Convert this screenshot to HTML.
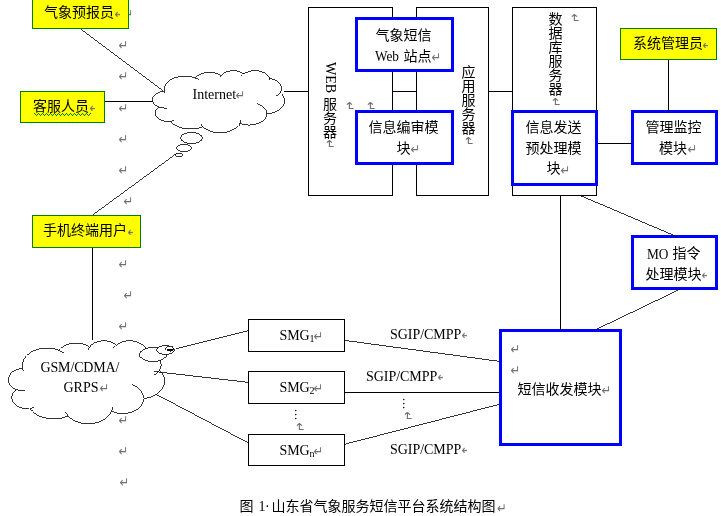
<!DOCTYPE html>
<html lang="zh-CN">
<head>
<meta charset="utf-8">
<title>图 1 山东省气象服务短信平台系统结构图</title>
<style>
html,body{margin:0;padding:0;background:#fff;}
body{width:721px;height:516px;overflow:hidden;}
svg{display:block;will-change:transform;}
text{fill:#000;}
.c{font-family:"Liberation Serif", "Noto Sans CJK SC", sans-serif;}
.l{font-family:"Liberation Serif", serif;}
.v{writing-mode:vertical-rl;text-orientation:mixed;}
.pm{fill:#707070;font-family:"DejaVu Sans", sans-serif;}
</style>
</head>
<body>
<svg width="721" height="516" viewBox="0 0 721 516" shape-rendering="crispEdges">
<g id="marks">
<text transform="translate(118.5,49.8) scale(1,1.18)" font-size="11.5" class="pm">↵</text>
<text transform="translate(118.5,80.8) scale(1,1.18)" font-size="11.5" class="pm">↵</text>
<text transform="translate(118.5,112.8) scale(1,1.18)" font-size="11.5" class="pm">↵</text>
<text transform="translate(118.5,143.8) scale(1,1.18)" font-size="11.5" class="pm">↵</text>
<text transform="translate(118.5,174.8) scale(1,1.18)" font-size="11.5" class="pm">↵</text>
<text transform="translate(123.5,205.8) scale(1,1.18)" font-size="11.5" class="pm">↵</text>
<text transform="translate(118.5,237.8) scale(1,1.18)" font-size="11.5" class="pm">↵</text>
<text transform="translate(118.5,268.8) scale(1,1.18)" font-size="11.5" class="pm">↵</text>
<text transform="translate(123.5,299.8) scale(1,1.18)" font-size="11.5" class="pm">↵</text>
<text transform="translate(118.5,330.8) scale(1,1.18)" font-size="11.5" class="pm">↵</text>
<text transform="translate(118.5,362.8) scale(1,1.18)" font-size="11.5" class="pm">↵</text>
<text transform="translate(118.5,393.8) scale(1,1.18)" font-size="11.5" class="pm">↵</text>
<text transform="translate(118.5,424.8) scale(1,1.18)" font-size="11.5" class="pm">↵</text>
<text transform="translate(118.5,455.8) scale(1,1.18)" font-size="11.5" class="pm">↵</text>
<text transform="translate(119.5,486.8) scale(1,1.18)" font-size="11.5" class="pm">↵</text>
<text transform="translate(123.5,18.8) scale(1,1.18)" font-size="11.5" class="pm">↵</text>
</g>
<g id="connectors">
<line x1="80" y1="28.5" x2="164" y2="91.5" stroke="#000" stroke-width="0.8"/>
<line x1="105" y1="101.5" x2="153" y2="101.5" stroke="#000" stroke-width="1"/>
<line x1="284" y1="91.5" x2="308" y2="91.5" stroke="#000" stroke-width="1"/>
<line x1="393" y1="91.5" x2="416" y2="91.5" stroke="#000" stroke-width="1"/>
<line x1="489" y1="91.5" x2="512" y2="91.5" stroke="#000" stroke-width="1"/>
<line x1="92.5" y1="248" x2="92.5" y2="340" stroke="#000" stroke-width="1"/>
<line x1="92" y1="215.5" x2="176.5" y2="153.5" stroke="#000" stroke-width="0.8"/>
<line x1="344.5" y1="340.5" x2="499.5" y2="361.5" stroke="#000" stroke-width="0.8"/>
<line x1="345" y1="392.5" x2="499" y2="392.5" stroke="#000" stroke-width="1"/>
<line x1="344.5" y1="444" x2="499.5" y2="404" stroke="#000" stroke-width="0.8"/>
</g>
<g id="servers">
<rect x="308.5" y="7.5" width="84" height="188" fill="#fff" stroke="#000" stroke-width="1"/>
<rect x="416.5" y="7.5" width="72" height="188" fill="#fff" stroke="#000" stroke-width="1"/>
<rect x="512.5" y="7.5" width="84" height="188" fill="#fff" stroke="#000" stroke-width="1"/>
</g>
<g id="actors">
<rect x="32.5" y="-3.5" width="96" height="32" fill="#ff0" stroke="#008000" stroke-width="1"/>
<rect x="20.5" y="91.5" width="84" height="31" fill="#ff0" stroke="#008000" stroke-width="1"/>
<rect x="32.5" y="215.5" width="108" height="32" fill="#ff0" stroke="#008000" stroke-width="1"/>
<rect x="620.5" y="28.5" width="96" height="31" fill="#ff0" stroke="#008000" stroke-width="1"/>
</g>
<g id="smg">
<rect x="248.5" y="319.5" width="96" height="32" fill="#fff" stroke="#000" stroke-width="1"/>
<rect x="248.5" y="371.5" width="96" height="32" fill="#fff" stroke="#000" stroke-width="1"/>
<rect x="248.5" y="434.5" width="96" height="31" fill="#fff" stroke="#000" stroke-width="1"/>
</g>
<g id="modules">
<rect x="356.5" y="18.5" width="96" height="52" fill="#fff" stroke="#00f" stroke-width="3"/>
<rect x="356.5" y="111.5" width="96" height="52" fill="#fff" stroke="#00f" stroke-width="3"/>
<rect x="512.5" y="111.5" width="84" height="73" fill="#fff" stroke="#00f" stroke-width="3"/>
<rect x="632.5" y="111.5" width="84" height="52" fill="#fff" stroke="#00f" stroke-width="3"/>
<rect x="632.5" y="236.5" width="84" height="52" fill="#fff" stroke="#00f" stroke-width="3"/>
<rect x="500.5" y="330.5" width="120" height="114" fill="#fff" stroke="#00f" stroke-width="3"/>
</g>
<g id="connectors2">
<line x1="598" y1="143.5" x2="632" y2="143.5" stroke="#000" stroke-width="1"/>
<line x1="668.5" y1="60" x2="668.5" y2="111" stroke="#000" stroke-width="1"/>
<line x1="560.5" y1="196" x2="560.5" y2="330" stroke="#000" stroke-width="1"/>
<line x1="580.2" y1="195.5" x2="676.5" y2="236.5" stroke="#000" stroke-width="0.8"/>
<line x1="679.5" y1="289.5" x2="596" y2="329.5" stroke="#000" stroke-width="0.8"/>
</g>
<g id="clouds">
<path d="M164.42,91.12 L164.25,89.90 L164.26,88.67 L164.44,87.45 L164.81,86.24 L165.35,85.06 L166.05,83.92 L166.92,82.83 L167.95,81.79 L169.12,80.82 L170.43,79.92 L171.87,79.10 L173.42,78.37 L175.06,77.74 L176.80,77.21 L178.60,76.78 L180.45,76.46 L182.35,76.25 L184.26,76.16 L186.19,76.18 L188.10,76.32 L189.98,76.57 L191.81,76.93 L193.59,77.39 L195.29,77.97 L195.93,77.27 L196.65,76.60 L197.44,75.98 L198.31,75.39 L199.25,74.85 L200.25,74.36 L201.31,73.91 L202.41,73.52 L203.56,73.19 L204.75,72.92 L205.97,72.70 L207.21,72.55 L208.46,72.46 L209.73,72.43 L210.99,72.46 L212.24,72.56 L213.48,72.72 L214.69,72.93 L215.88,73.21 L217.03,73.55 L218.13,73.94 L219.19,74.39 L220.18,74.88 L221.12,75.43 L221.66,74.80 L222.29,74.20 L222.99,73.63 L223.76,73.11 L224.60,72.63 L225.51,72.20 L226.46,71.82 L227.46,71.49 L228.50,71.21 L229.58,71.00 L230.68,70.84 L231.79,70.74 L232.92,70.70 L234.04,70.73 L235.16,70.81 L236.27,70.95 L237.35,71.16 L238.40,71.42 L239.41,71.73 L240.38,72.10 L241.29,72.52 L242.15,72.99 L242.94,73.51 L243.66,74.06 L244.61,73.41 L245.65,72.82 L246.78,72.29 L247.98,71.83 L249.24,71.45 L250.55,71.15 L251.91,70.92 L253.29,70.78 L254.68,70.72 L256.08,70.74 L257.46,70.85 L258.83,71.04 L260.16,71.31 L261.44,71.66 L262.67,72.09 L263.83,72.58 L264.91,73.15 L265.90,73.78 L266.80,74.46 L267.59,75.19 L268.27,75.97 L268.83,76.79 L269.27,77.63 L269.58,78.50 L270.69,78.72 L271.77,78.99 L272.82,79.31 L273.83,79.68 L274.80,80.09 L275.72,80.55 L276.58,81.04 L277.39,81.57 L278.14,82.14 L278.82,82.75 L279.43,83.38 L279.98,84.03 L280.44,84.72 L280.83,85.42 L281.14,86.13 L281.38,86.86 L281.53,87.60 L281.59,88.34 L281.58,89.08 L281.48,89.82 L281.30,90.56 L281.04,91.28 L280.70,91.99 L280.28,92.69 L281.31,93.63 L282.21,94.62 L282.97,95.66 L283.59,96.74 L284.06,97.85 L284.38,98.98 L284.54,100.12 L284.55,101.27 L284.40,102.42 L284.09,103.55 L283.64,104.66 L283.03,105.74 L282.28,106.78 L281.39,107.78 L280.37,108.73 L279.23,109.61 L277.97,110.43 L276.60,111.18 L275.14,111.84 L273.59,112.43 L271.97,112.92 L270.29,113.33 L268.56,113.64 L266.79,113.85 L266.71,114.84 L266.49,115.83 L266.14,116.80 L265.65,117.75 L265.03,118.67 L264.29,119.54 L263.43,120.38 L262.46,121.16 L261.39,121.88 L260.22,122.54 L258.96,123.13 L257.63,123.65 L256.23,124.09 L254.77,124.45 L253.27,124.73 L251.74,124.92 L250.18,125.03 L248.62,125.04 L247.07,124.97 L245.52,124.81 L244.01,124.57 L242.54,124.24 L241.11,123.82 L239.75,123.33 L239.11,124.51 L238.29,125.63 L237.31,126.71 L236.17,127.72 L234.90,128.66 L233.49,129.51 L231.96,130.28 L230.33,130.95 L228.61,131.52 L226.81,131.99 L224.95,132.34 L223.04,132.58 L221.11,132.71 L219.17,132.72 L217.24,132.61 L215.33,132.38 L213.46,132.04 L211.65,131.59 L209.92,131.04 L208.27,130.38 L206.73,129.62 L205.30,128.78 L204.01,127.85 L202.86,126.85 L201.49,127.34 L200.08,127.77 L198.62,128.14 L197.13,128.44 L195.61,128.68 L194.07,128.86 L192.52,128.97 L190.96,129.01 L189.39,128.99 L187.83,128.90 L186.29,128.75 L184.76,128.53 L183.26,128.24 L181.80,127.89 L180.37,127.48 L178.99,127.01 L177.65,126.49 L176.38,125.91 L175.17,125.27 L174.03,124.58 L172.96,123.85 L171.97,123.08 L171.06,122.26 L170.24,121.41 L168.89,121.46 L167.53,121.43 L166.19,121.31 L164.88,121.11 L163.60,120.82 L162.38,120.45 L161.22,120.01 L160.14,119.49 L159.14,118.90 L158.25,118.25 L157.46,117.55 L156.79,116.80 L156.24,116.01 L155.82,115.19 L155.54,114.35 L155.39,113.49 L155.37,112.63 L155.50,111.77 L155.76,110.92 L156.15,110.09 L156.67,109.30 L157.32,108.54 L158.08,107.83 L158.96,107.17 L157.80,106.68 L156.73,106.11 L155.75,105.48 L154.88,104.78 L154.13,104.03 L153.51,103.23 L153.02,102.40 L152.67,101.54 L152.46,100.66 L152.39,99.77 L152.47,98.88 L152.69,98.00 L153.06,97.14 L153.56,96.30 L154.19,95.51 L154.95,94.77 L155.83,94.07 L156.81,93.45 L157.89,92.89 L159.06,92.40 L160.30,92.00 L161.59,91.68 L162.93,91.45 L164.31,91.32 L164.42,91.12Z" fill="#fff" stroke="#000" stroke-width="0.8"/>
<path d="M166.84,108.07 L166.50,108.08 L166.17,108.09 L165.83,108.09 L165.50,108.09 L165.16,108.08 L164.83,108.07 L164.49,108.05 L164.16,108.03 L163.82,108.00 L163.49,107.96 L163.16,107.92 L162.83,107.88 L162.51,107.83 L162.18,107.77 L161.86,107.71 L161.54,107.64 L161.22,107.57 L160.91,107.49 L160.60,107.41 L160.29,107.32 L159.99,107.23 L159.69,107.13 L159.39,107.03 L159.10,106.92 M173.67,120.59 L173.53,120.62 L173.40,120.65 L173.26,120.69 L173.12,120.72 L172.98,120.75 L172.85,120.78 L172.71,120.80 L172.57,120.83 L172.43,120.86 L172.29,120.88 L172.15,120.91 L172.00,120.93 L171.86,120.95 L171.72,120.98 L171.58,121.00 L171.43,121.01 L171.29,121.03 L171.15,121.05 L171.00,121.07 L170.86,121.08 L170.72,121.10 L170.57,121.11 L170.43,121.12 L170.28,121.13 M202.85,126.60 L202.75,126.50 L202.65,126.40 L202.55,126.31 L202.45,126.21 L202.36,126.11 L202.26,126.00 L202.17,125.90 L202.08,125.80 L201.99,125.70 L201.90,125.60 L201.81,125.49 L201.73,125.39 L201.64,125.28 L201.56,125.18 L201.48,125.07 L201.40,124.97 L201.32,124.86 L201.24,124.75 L201.16,124.65 L201.09,124.54 L201.02,124.43 L200.95,124.32 L200.88,124.21 L200.81,124.10 M240.58,120.37 L240.57,120.49 L240.55,120.61 L240.53,120.72 L240.51,120.84 L240.49,120.95 L240.46,121.07 L240.44,121.18 L240.41,121.30 L240.38,121.41 L240.35,121.53 L240.32,121.64 L240.29,121.76 L240.25,121.87 L240.22,121.99 L240.18,122.10 L240.14,122.21 L240.10,122.33 L240.06,122.44 L240.01,122.55 L239.97,122.67 L239.92,122.78 L239.87,122.89 L239.82,123.00 L239.77,123.11 M256.78,103.44 L257.52,103.69 L258.24,103.95 L258.93,104.24 L259.61,104.54 L260.26,104.87 L260.89,105.22 L261.49,105.58 L262.07,105.96 L262.61,106.36 L263.13,106.77 L263.61,107.20 L264.07,107.65 L264.49,108.10 L264.87,108.57 L265.22,109.05 L265.54,109.54 L265.82,110.04 L266.06,110.55 L266.27,111.06 L266.43,111.58 L266.56,112.10 L266.65,112.63 L266.71,113.15 L266.72,113.68 M280.22,92.54 L280.09,92.72 L279.96,92.90 L279.82,93.08 L279.68,93.26 L279.53,93.44 L279.38,93.61 L279.22,93.79 L279.06,93.96 L278.89,94.13 L278.71,94.29 L278.53,94.46 L278.35,94.62 L278.16,94.78 L277.97,94.94 L277.77,95.09 L277.57,95.25 L277.36,95.40 L277.15,95.55 L276.94,95.69 L276.71,95.83 L276.49,95.97 L276.26,96.11 L276.03,96.24 L275.79,96.38 M269.60,78.29 L269.62,78.36 L269.64,78.44 L269.66,78.51 L269.68,78.59 L269.69,78.66 L269.71,78.74 L269.73,78.81 L269.74,78.89 L269.75,78.96 L269.76,79.04 L269.78,79.11 L269.79,79.19 L269.80,79.27 L269.80,79.34 L269.81,79.42 L269.82,79.49 L269.82,79.57 L269.83,79.65 L269.83,79.72 L269.83,79.80 L269.84,79.87 L269.84,79.95 L269.84,80.02 L269.83,80.10 M241.35,76.17 L241.42,76.07 L241.50,75.96 L241.57,75.86 L241.65,75.76 L241.73,75.66 L241.82,75.56 L241.90,75.46 L241.99,75.36 L242.08,75.26 L242.17,75.16 L242.26,75.06 L242.35,74.96 L242.45,74.87 L242.54,74.77 L242.64,74.68 L242.74,74.58 L242.85,74.49 L242.95,74.40 L243.06,74.30 L243.17,74.21 L243.28,74.12 L243.39,74.03 L243.50,73.95 L243.62,73.86 M220.15,77.27 L220.18,77.19 L220.21,77.10 L220.25,77.02 L220.28,76.93 L220.32,76.85 L220.35,76.76 L220.39,76.68 L220.43,76.59 L220.47,76.51 L220.52,76.42 L220.56,76.34 L220.60,76.25 L220.65,76.17 L220.70,76.09 L220.75,76.01 L220.80,75.92 L220.85,75.84 L220.90,75.76 L220.96,75.68 L221.01,75.60 L221.07,75.52 L221.13,75.44 L221.19,75.36 L221.25,75.28 M195.28,77.95 L195.46,78.02 L195.64,78.09 L195.81,78.16 L195.99,78.23 L196.16,78.30 L196.34,78.38 L196.51,78.45 L196.68,78.53 L196.85,78.60 L197.02,78.68 L197.19,78.76 L197.36,78.84 L197.52,78.92 L197.68,79.01 L197.85,79.09 L198.01,79.17 L198.17,79.26 L198.33,79.35 L198.48,79.43 L198.64,79.52 L198.79,79.61 L198.95,79.70 L199.10,79.79 L199.25,79.89 M165.11,93.16 L165.07,93.08 L165.03,92.99 L165.00,92.91 L164.96,92.83 L164.92,92.74 L164.89,92.66 L164.86,92.57 L164.82,92.49 L164.79,92.41 L164.76,92.32 L164.73,92.24 L164.70,92.15 L164.67,92.07 L164.64,91.98 L164.62,91.90 L164.59,91.81 L164.57,91.72 L164.54,91.64 L164.52,91.55 L164.50,91.47 L164.48,91.38 L164.46,91.30 L164.44,91.21 L164.42,91.12" fill="none" stroke="#000" stroke-width="0.8"/>
<ellipse cx="191.5" cy="138" rx="11" ry="5.5" fill="#fff" stroke="#000" stroke-width="0.8"/>
<ellipse cx="184" cy="148" rx="7.5" ry="3.5" fill="#fff" stroke="#000" stroke-width="0.8"/>
<ellipse cx="179" cy="155" rx="3.5" ry="1.5" fill="#fff" stroke="#000" stroke-width="0.8"/>
<path d="M22.58,368.11 L22.38,366.47 L22.39,364.83 L22.61,363.19 L23.05,361.58 L23.68,360.00 L24.52,358.47 L25.55,357.00 L26.76,355.61 L28.15,354.31 L29.70,353.11 L31.39,352.01 L33.22,351.04 L35.17,350.19 L37.21,349.48 L39.34,348.91 L41.54,348.48 L43.77,348.20 L46.04,348.08 L48.31,348.11 L50.57,348.29 L52.79,348.62 L54.96,349.10 L57.06,349.73 L59.07,350.49 L59.82,349.56 L60.67,348.67 L61.61,347.83 L62.64,347.05 L63.75,346.32 L64.93,345.66 L66.18,345.07 L67.49,344.55 L68.85,344.10 L70.25,343.74 L71.69,343.45 L73.16,343.24 L74.64,343.12 L76.13,343.08 L77.62,343.13 L79.10,343.26 L80.57,343.47 L82.00,343.76 L83.40,344.13 L84.76,344.58 L86.07,345.11 L87.31,345.70 L88.49,346.37 L89.59,347.09 L90.24,346.25 L90.98,345.45 L91.81,344.69 L92.72,343.99 L93.71,343.35 L94.78,342.77 L95.91,342.26 L97.09,341.82 L98.32,341.45 L99.59,341.16 L100.89,340.95 L102.21,340.82 L103.54,340.77 L104.87,340.80 L106.19,340.91 L107.50,341.11 L108.77,341.38 L110.01,341.73 L111.21,342.15 L112.35,342.65 L113.43,343.21 L114.44,343.84 L115.38,344.52 L116.23,345.27 L117.36,344.39 L118.59,343.60 L119.92,342.90 L121.34,342.29 L122.83,341.77 L124.38,341.36 L125.98,341.06 L127.61,340.87 L129.26,340.79 L130.91,340.82 L132.55,340.97 L134.16,341.22 L135.73,341.59 L137.25,342.05 L138.70,342.62 L140.07,343.29 L141.35,344.05 L142.52,344.88 L143.58,345.80 L144.52,346.78 L145.32,347.83 L145.98,348.92 L146.50,350.05 L146.87,351.21 L148.18,351.51 L149.46,351.87 L150.70,352.30 L151.89,352.79 L153.03,353.34 L154.12,353.95 L155.14,354.61 L156.10,355.33 L156.98,356.09 L157.79,356.89 L158.51,357.74 L159.15,358.62 L159.70,359.53 L160.17,360.47 L160.53,361.43 L160.81,362.40 L160.98,363.39 L161.06,364.38 L161.05,365.38 L160.93,366.37 L160.72,367.35 L160.41,368.32 L160.01,369.27 L159.51,370.20 L160.73,371.46 L161.79,372.79 L162.69,374.18 L163.42,375.63 L163.98,377.11 L164.35,378.63 L164.55,380.16 L164.55,381.69 L164.38,383.23 L164.02,384.74 L163.48,386.23 L162.76,387.68 L161.88,389.07 L160.83,390.41 L159.62,391.68 L158.27,392.86 L156.78,393.96 L155.17,394.95 L153.44,395.85 L151.61,396.63 L149.69,397.29 L147.70,397.83 L145.66,398.25 L143.57,398.53 L143.47,399.86 L143.22,401.18 L142.80,402.48 L142.22,403.75 L141.49,404.98 L140.62,406.16 L139.60,407.27 L138.46,408.32 L137.19,409.29 L135.80,410.17 L134.32,410.96 L132.74,411.66 L131.08,412.25 L129.36,412.73 L127.59,413.10 L125.78,413.36 L123.94,413.49 L122.10,413.52 L120.26,413.42 L118.44,413.21 L116.65,412.88 L114.91,412.44 L113.23,411.89 L111.62,411.23 L110.85,412.80 L109.89,414.31 L108.73,415.75 L107.39,417.10 L105.88,418.35 L104.22,419.50 L102.41,420.53 L100.48,421.43 L98.45,422.19 L96.32,422.81 L94.12,423.29 L91.87,423.61 L89.59,423.78 L87.29,423.79 L85.01,423.64 L82.75,423.34 L80.55,422.89 L78.41,422.29 L76.36,421.54 L74.41,420.66 L72.59,419.65 L70.91,418.52 L69.38,417.28 L68.01,415.94 L66.40,416.59 L64.73,417.17 L63.01,417.66 L61.25,418.07 L59.45,418.39 L57.63,418.63 L55.79,418.77 L53.95,418.83 L52.10,418.80 L50.26,418.68 L48.43,418.48 L46.63,418.18 L44.86,417.80 L43.12,417.33 L41.44,416.79 L39.80,416.16 L38.23,415.45 L36.72,414.67 L35.29,413.82 L33.94,412.90 L32.68,411.92 L31.51,410.88 L30.43,409.79 L29.46,408.65 L27.87,408.72 L26.27,408.68 L24.68,408.53 L23.13,408.25 L21.62,407.87 L20.17,407.37 L18.80,406.77 L17.53,406.08 L16.35,405.29 L15.30,404.43 L14.37,403.48 L13.57,402.48 L12.93,401.42 L12.43,400.33 L12.09,399.20 L11.91,398.05 L11.90,396.89 L12.04,395.74 L12.35,394.61 L12.81,393.50 L13.43,392.44 L14.20,391.42 L15.10,390.47 L16.13,389.59 L14.76,388.93 L13.49,388.17 L12.34,387.32 L11.32,386.39 L10.43,385.39 L9.69,384.32 L9.12,383.21 L8.70,382.05 L8.45,380.87 L8.37,379.68 L8.46,378.49 L8.73,377.31 L9.16,376.16 L9.75,375.04 L10.50,373.98 L11.40,372.98 L12.43,372.06 L13.60,371.22 L14.87,370.47 L16.25,369.82 L17.72,369.28 L19.25,368.86 L20.83,368.55 L22.45,368.37 L22.58,368.11Z" fill="#fff" stroke="#000" stroke-width="0.8"/>
<path d="M25.45,390.79 L25.05,390.81 L24.65,390.82 L24.26,390.83 L23.86,390.83 L23.46,390.81 L23.07,390.80 L22.67,390.77 L22.28,390.74 L21.88,390.70 L21.49,390.65 L21.10,390.60 L20.71,390.54 L20.33,390.47 L19.94,390.39 L19.56,390.31 L19.18,390.22 L18.81,390.13 L18.44,390.02 L18.07,389.91 L17.71,389.80 L17.35,389.67 L16.99,389.54 L16.64,389.41 L16.30,389.26 M33.52,407.55 L33.36,407.60 L33.20,407.64 L33.03,407.68 L32.87,407.73 L32.71,407.77 L32.54,407.81 L32.38,407.84 L32.22,407.88 L32.05,407.92 L31.88,407.95 L31.72,407.98 L31.55,408.01 L31.38,408.04 L31.21,408.07 L31.05,408.10 L30.88,408.12 L30.71,408.15 L30.54,408.17 L30.37,408.19 L30.20,408.22 L30.03,408.23 L29.86,408.25 L29.69,408.27 L29.52,408.28 M68.00,415.60 L67.88,415.47 L67.77,415.34 L67.65,415.21 L67.53,415.07 L67.42,414.94 L67.31,414.80 L67.20,414.67 L67.09,414.53 L66.98,414.39 L66.88,414.26 L66.78,414.12 L66.68,413.98 L66.58,413.84 L66.48,413.70 L66.38,413.56 L66.29,413.42 L66.19,413.27 L66.10,413.13 L66.01,412.99 L65.93,412.84 L65.84,412.70 L65.76,412.55 L65.67,412.41 L65.59,412.26 M112.60,407.27 L112.58,407.42 L112.56,407.58 L112.54,407.73 L112.51,407.89 L112.49,408.04 L112.46,408.20 L112.43,408.35 L112.40,408.51 L112.36,408.66 L112.33,408.81 L112.29,408.97 L112.25,409.12 L112.21,409.27 L112.17,409.43 L112.12,409.58 L112.07,409.73 L112.03,409.88 L111.98,410.03 L111.92,410.18 L111.87,410.34 L111.81,410.49 L111.76,410.64 L111.70,410.79 L111.63,410.94 M131.74,384.60 L132.61,384.93 L133.46,385.28 L134.29,385.66 L135.09,386.07 L135.86,386.51 L136.60,386.97 L137.31,387.46 L137.99,387.97 L138.63,388.51 L139.24,389.06 L139.82,389.63 L140.35,390.23 L140.85,390.84 L141.31,391.47 L141.72,392.11 L142.09,392.76 L142.42,393.43 L142.71,394.11 L142.95,394.80 L143.15,395.49 L143.30,396.19 L143.41,396.90 L143.47,397.60 L143.48,398.31 M159.44,370.00 L159.29,370.25 L159.13,370.49 L158.97,370.73 L158.80,370.97 L158.63,371.21 L158.45,371.44 L158.26,371.67 L158.07,371.90 L157.87,372.13 L157.66,372.35 L157.45,372.57 L157.23,372.79 L157.01,373.00 L156.78,373.22 L156.55,373.42 L156.31,373.63 L156.06,373.83 L155.81,374.03 L155.56,374.22 L155.30,374.41 L155.03,374.60 L154.76,374.78 L154.49,374.96 L154.21,375.14 M146.89,350.92 L146.92,351.03 L146.94,351.13 L146.96,351.23 L146.98,351.33 L147.00,351.43 L147.02,351.53 L147.04,351.63 L147.06,351.73 L147.07,351.83 L147.09,351.93 L147.10,352.03 L147.11,352.13 L147.12,352.24 L147.13,352.34 L147.14,352.44 L147.15,352.54 L147.15,352.64 L147.16,352.74 L147.16,352.84 L147.17,352.95 L147.17,353.05 L147.17,353.15 L147.17,353.25 L147.17,353.35 M113.50,348.09 L113.59,347.95 L113.68,347.81 L113.77,347.68 L113.86,347.54 L113.96,347.40 L114.06,347.27 L114.16,347.13 L114.26,347.00 L114.36,346.87 L114.47,346.74 L114.58,346.60 L114.69,346.47 L114.80,346.35 L114.92,346.22 L115.03,346.09 L115.15,345.96 L115.27,345.84 L115.40,345.72 L115.52,345.59 L115.65,345.47 L115.78,345.35 L115.91,345.23 L116.05,345.11 L116.18,345.00 M88.45,349.57 L88.49,349.45 L88.53,349.34 L88.57,349.22 L88.61,349.11 L88.65,348.99 L88.69,348.88 L88.74,348.77 L88.78,348.65 L88.83,348.54 L88.88,348.43 L88.93,348.32 L88.99,348.20 L89.04,348.09 L89.10,347.98 L89.16,347.87 L89.22,347.76 L89.28,347.65 L89.34,347.54 L89.41,347.43 L89.47,347.33 L89.54,347.22 L89.61,347.11 L89.68,347.00 L89.75,346.90 M59.06,350.48 L59.27,350.57 L59.48,350.66 L59.69,350.75 L59.90,350.85 L60.10,350.95 L60.31,351.04 L60.51,351.14 L60.72,351.25 L60.92,351.35 L61.12,351.45 L61.31,351.56 L61.51,351.67 L61.71,351.78 L61.90,351.89 L62.09,352.00 L62.28,352.11 L62.47,352.23 L62.66,352.34 L62.85,352.46 L63.03,352.58 L63.21,352.70 L63.39,352.82 L63.57,352.94 L63.75,353.07 M23.40,370.84 L23.36,370.72 L23.31,370.61 L23.27,370.50 L23.23,370.39 L23.18,370.28 L23.14,370.16 L23.10,370.05 L23.06,369.94 L23.03,369.82 L22.99,369.71 L22.95,369.60 L22.92,369.48 L22.89,369.37 L22.85,369.26 L22.82,369.14 L22.79,369.03 L22.76,368.91 L22.73,368.80 L22.71,368.68 L22.68,368.57 L22.65,368.46 L22.63,368.34 L22.61,368.22 L22.58,368.11" fill="none" stroke="#000" stroke-width="0.8"/>
<ellipse cx="153" cy="354.5" rx="13.5" ry="7" fill="#fff" stroke="#000" stroke-width="0.8"/>
<ellipse cx="165.5" cy="350" rx="9" ry="4.5" fill="#fff" stroke="#000" stroke-width="0.8"/>
<ellipse cx="169.5" cy="348.5" rx="4" ry="2.5" fill="#fff" stroke="#000" stroke-width="0.8"/>
<rect x="167" y="349" width="6" height="2" fill="#000"/>
<line x1="175.5" y1="348.5" x2="248.5" y2="330.5" stroke="#000" stroke-width="0.8"/>
<line x1="153.5" y1="371.5" x2="248.5" y2="382.5" stroke="#000" stroke-width="0.8"/>
<line x1="155.5" y1="394.5" x2="248.5" y2="443.5" stroke="#000" stroke-width="0.8"/>
</g>
<g id="labels">
<text x="44" y="17" font-size="14" class="c" >气象预报员</text>
<svg x="115" y="9" width="5" height="8"><text transform="translate(-0.5,9.8) scale(1,1.18)" font-size="11.5" class="pm">↵</text></svg>
<text x="33" y="111" font-size="14" class="c" >客服人员</text>
<svg x="90" y="103" width="5" height="8"><text transform="translate(-0.5,9.8) scale(1,1.18)" font-size="11.5" class="pm">↵</text></svg>
<text x="43" y="235" font-size="14" class="c" >手机终端用户</text>
<svg x="128" y="227" width="5" height="8"><text transform="translate(-0.5,9.8) scale(1,1.18)" font-size="11.5" class="pm">↵</text></svg>
<text x="633" y="48" font-size="14" class="c" >系统管理员</text>
<svg x="703" y="40" width="5" height="8"><text transform="translate(-0.5,9.8) scale(1,1.18)" font-size="11.5" class="pm">↵</text></svg>
<polyline points="34.5,113.5 36.5,115.5 38.5,113.5 40.5,115.5 42.5,113.5 44.5,115.5 46.5,113.5 48.5,115.5 50.5,113.5 52.5,115.5 54.5,113.5 56.5,115.5 58.5,113.5 60.5,115.5 62.5,113.5 64.5,115.5 66.5,113.5 68.5,115.5 70.5,113.5 72.5,115.5 74.5,113.5 76.5,115.5 78.5,113.5 80.5,115.5 82.5,113.5 84.5,115.5 86.5,113.5 88.5,115.5 90.5,113.5" fill="none" stroke="#008000" stroke-width="1"/>
<text x="375.5" y="40" font-size="14" class="c" >气象短信</text>
<text x="375" y="61" font-size="14" class="c" ><tspan textLength="24" lengthAdjust="spacingAndGlyphs">Web</tspan> <tspan x="403.5">站点</tspan></text>
<text transform="translate(431.5,61.8) scale(1,1.18)" font-size="11.5" class="pm">↵</text>
<text x="368.5" y="132" font-size="14" class="c" >信息编审模</text>
<text x="396.5" y="152.5" font-size="14" class="c" >块</text>
<text transform="translate(410.5,153.8) scale(1,1.18)" font-size="11.5" class="pm">↵</text>
<text x="525.5" y="132" font-size="14" class="c" >信息发送</text>
<text x="525.5" y="152.5" font-size="14" class="c" >预处理模</text>
<text x="546.5" y="173" font-size="14" class="c" >块</text>
<text transform="translate(560.5,174.8) scale(1,1.18)" font-size="11.5" class="pm">↵</text>
<text x="645.5" y="132" font-size="14" class="c" >管理监控</text>
<text x="659" y="152.5" font-size="14" class="c" >模块</text>
<text transform="translate(687.5,153.8) scale(1,1.18)" font-size="11.5" class="pm">↵</text>
<text x="647" y="259" font-size="14" class="c" ><tspan textLength="21.5" lengthAdjust="spacingAndGlyphs">MO</tspan> <tspan x="672.5" dy="-1">指令</tspan></text>
<text x="645.5" y="278.5" font-size="14" class="c" >处理模块</text>
<svg x="702" y="270" width="5" height="8"><text transform="translate(-0.5,9.8) scale(1,1.18)" font-size="11.5" class="pm">↵</text></svg>
<text transform="translate(510.5,353.8) scale(1,1.18)" font-size="11.5" class="pm">↵</text>
<text transform="translate(510.5,374.8) scale(1,1.18)" font-size="11.5" class="pm">↵</text>
<text x="517.5" y="393.5" font-size="14" class="c" >短信收发模块</text>
<text transform="translate(601.5,394.8) scale(1,1.18)" font-size="11.5" class="pm">↵</text>
<text x="192.5" y="99" font-size="14" class="l" >Internet</text>
<text transform="translate(235.5,99.8) scale(1,1.18)" font-size="11.5" class="pm">↵</text>
<text x="40.5" y="372" font-size="14" class="l" letter-spacing="-0.15">GSM/CDMA/</text>
<text x="63.5" y="392" font-size="14" class="l" >GRPS</text>
<text transform="translate(99.5,392.8) scale(1,1.18)" font-size="11.5" class="pm">↵</text>
<text x="279.5" y="340" font-size="14" class="l" letter-spacing="-0.15">SMG<tspan font-size="10" dy="2">1</tspan></text>
<text transform="translate(313.5,340.8) scale(1,1.18)" font-size="11.5" class="pm">↵</text>
<text x="279.5" y="392" font-size="14" class="l" letter-spacing="-0.15">SMG<tspan font-size="10" dy="2">2</tspan></text>
<text transform="translate(313.5,392.8) scale(1,1.18)" font-size="11.5" class="pm">↵</text>
<text x="279.5" y="455" font-size="14" class="l" letter-spacing="-0.15">SMG<tspan font-size="10" dy="2">n</tspan></text>
<text transform="translate(313.5,455.8) scale(1,1.18)" font-size="11.5" class="pm">↵</text>
<text x="390" y="339" font-size="14" class="l" letter-spacing="-0.05">SGIP/CMPP</text>
<svg x="462" y="330" width="5" height="8"><text transform="translate(-0.5,9.8) scale(1,1.18)" font-size="11.5" class="pm">↵</text></svg>
<text x="366" y="381" font-size="14" class="l" letter-spacing="-0.05">SGIP/CMPP</text>
<svg x="438" y="372" width="5" height="8"><text transform="translate(-0.5,9.8) scale(1,1.18)" font-size="11.5" class="pm">↵</text></svg>
<text x="390" y="454" font-size="14" class="l" letter-spacing="-0.05">SGIP/CMPP</text>
<svg x="462" y="445" width="5" height="8"><text transform="translate(-0.5,9.8) scale(1,1.18)" font-size="11.5" class="pm">↵</text></svg>
<text x="298.5" y="408.5" font-size="12" class="c v">…</text>
<text x="406.5" y="397.5" font-size="12" class="c v">…</text>
<text transform="translate(294.7,422.5) rotate(90) scale(1,1.18)" font-size="11.5" class="pm">↵</text>
<text transform="translate(402.7,411.5) rotate(90) scale(1,1.18)" font-size="11.5" class="pm">↵</text>
<text x="239.5" y="511" font-size="14" class="c" >图 <tspan x="258.5">1</tspan><tspan x="265">·</tspan> <tspan x="271.5">山东省气象服务短信平台系统结构图</tspan></text>
<text transform="translate(497.0,512.8) scale(1,1.18)" font-size="11.5" class="pm">↵</text>
<text x="330" y="62" font-size="14" class="c v">WEB</text>
<text x="328.5" y="97" font-size="14" class="c v">服务器</text>
<text transform="translate(324.7,139.5) rotate(90) scale(1,1.18)" font-size="11.5" class="pm">↵</text>
<text transform="translate(344.7,101.5) rotate(90) scale(1,1.18)" font-size="11.5" class="pm">↵</text>
<text transform="translate(365.7,101.5) rotate(90) scale(1,1.18)" font-size="11.5" class="pm">↵</text>
<text x="467" y="65" font-size="14" class="c v">应用服务器</text>
<text transform="translate(463.7,136.5) rotate(90) scale(1,1.18)" font-size="11.5" class="pm">↵</text>
<text x="554" y="12" font-size="14" class="c v">数据库服务器</text>
<text transform="translate(550.7,97.5) rotate(90) scale(1,1.18)" font-size="11.5" class="pm">↵</text>
<text transform="translate(569.7,13.5) rotate(90) scale(1,1.18)" font-size="11.5" class="pm">↵</text>
</g>
</svg>
</body>
</html>
